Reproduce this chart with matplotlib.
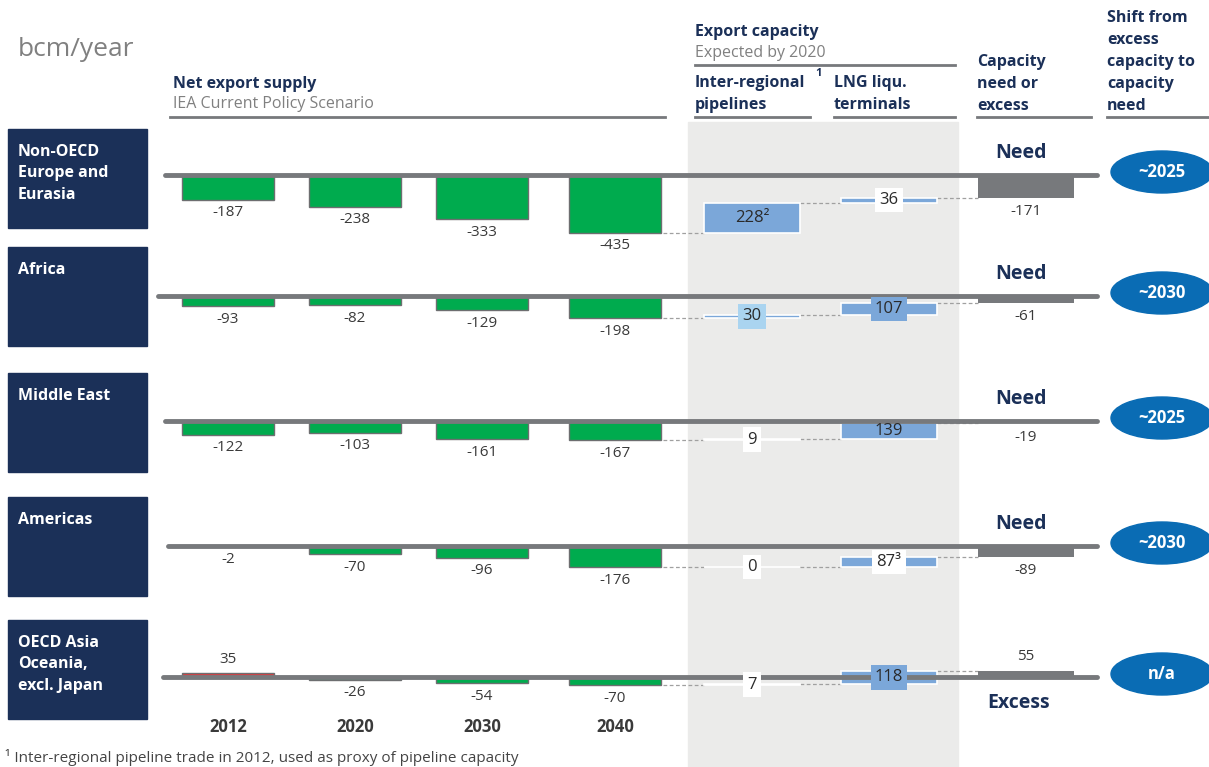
# Export capacity vs net export supply per region (bcm/year)
import matplotlib.pyplot as plt
from matplotlib.patches import Rectangle, Ellipse

plt.rcParams['font.family'] = ['Open Sans', 'DejaVu Sans']

# data
regions = ['Non-OECD\nEurope and\nEurasia', 'Africa', 'Middle East', 'Americas',
           'OECD Asia\nOceania,\nexcl. Japan']
years = ['2012', '2020', '2030', '2040']
net_supply = [
    [-187, -238, -333, -435],
    [-93, -82, -129, -198],
    [-122, -103, -161, -167],
    [-2, -70, -96, -176],
    [35, -26, -54, -70],
]
pipelines = [228, 30, 9, 0, 7]
lng = [36, 107, 139, 87, 118]
pipe_notes = ['²', '', '', '', '']
lng_notes = ['', '', '', '³', '']
need_text = ['Need', 'Need', 'Need', 'Need', 'Excess']
shift = ['~2025', '~2030', '~2025', '~2030', 'n/a']

# layout (pixels)
W, H = 1209, 767
base_y = [175, 296, 421, 546, 677]
box_top = [129, 247, 373, 497, 620]
line_x0 = [165, 158, 165, 168, 163]
px_per_bcm = [0.133, 0.112, 0.114, 0.12, 0.115]
year_x = [228, 355, 482, 615]
pipe_x, lng_x, need_x = 752, 889, 1026
pipe_box = ['none', '#aad4f0', 'white', 'white', 'white']
lng_box = ['white', '#7ba7d9', 'none', 'white', '#7ba7d9']

navy = '#1b3058'
green = '#00ab4e'
red = '#e03a3e'
blue = '#7ba7d9'
grey = '#77797c'
txt = '#3a3a3a'

fig = plt.figure(figsize=(W / 100, H / 100), dpi=100)
bg = fig.add_axes([0, 0, 1, 1])
bg.set_xlim(0, W)
bg.set_ylim(H, 0)
bg.axis('off')

# grey panel behind the export capacity columns
bg.add_patch(Rectangle((688, 122), 270, 645, color='#ebebea', zorder=0))

# headers
hd = dict(fontsize=11.5, fontweight='bold', color=navy, va='center', linespacing=1.5)
bg.text(18, 50, 'bcm/year', fontsize=19, color='#808080', va='center')
bg.text(173, 84, 'Net export supply', **hd)
bg.text(173, 104, 'IEA Current Policy Scenario', fontsize=11.5, color='#808080', va='center')
bg.plot([170, 665], [117, 117], color=grey, lw=2)
bg.text(695, 32, 'Export capacity', **hd)
bg.text(695, 53, 'Expected by 2020', fontsize=11.5, color='#808080', va='center')
bg.plot([695, 955], [65, 65], color=grey, lw=2)
bg.text(695, 94, 'Inter-regional\npipelines', **hd)
bg.text(815, 74, '1', fontsize=8, fontweight='bold', color=navy, va='center')
bg.plot([695, 810], [117, 117], color=grey, lw=2)
bg.text(834, 94, 'LNG liqu.\nterminals', **hd)
bg.plot([834, 955], [117, 117], color=grey, lw=2)
bg.text(977, 84, 'Capacity\nneed or\nexcess', **hd)
bg.plot([977, 1091], [117, 117], color=grey, lw=2)
bg.text(1107, 62, 'Shift from\nexcess\ncapacity to\ncapacity\nneed', **hd)
bg.plot([1107, 1209], [117, 117], color=grey, lw=2)

for i, name in enumerate(regions):
    # region box
    bg.add_patch(Rectangle((8, box_top[i]), 139, 99, color=navy, zorder=1))
    bg.text(18, box_top[i] + 15, name, fontsize=11.5, fontweight='bold', color='white',
            va='top', linespacing=1.45)
    # shift ellipse
    cy = base_y[i] - 3
    bg.add_patch(Ellipse((1162, cy), 102, 42, color='#0a6cb4', zorder=2))
    bg.text(1162, cy, shift[i], fontsize=12, fontweight='bold', color='white',
            ha='center', va='center', zorder=3)

    s = px_per_bcm[i]
    top_px, bot_px = 75, 85
    ax = fig.add_axes([0, 1 - (base_y[i] + bot_px) / H, 1, (top_px + bot_px) / H])
    ax.set_xlim(0, W)
    ax.set_ylim(-bot_px / s, top_px / s)
    ax.axis('off')
    ax.patch.set_alpha(0)

    vals = net_supply[i]
    cols = [red if v > 0 else green for v in vals]
    ax.bar(year_x, vals, width=92, color=cols, edgecolor='#6d6e70', lw=1, zorder=2)
    for x, v in zip(year_x, vals):
        off = 13 / s
        ax.text(x, v + off if v > 0 else v - off, str(v), fontsize=11, color=txt,
                ha='center', va='center')

    # waterfall: 2040 supply + pipelines + LNG = need / excess
    start = vals[-1]
    lvl1 = start + pipelines[i]
    lvl2 = lvl1 + lng[i]
    ax.bar(pipe_x, pipelines[i], bottom=start, width=96, color=blue, edgecolor='white',
           lw=1.2, zorder=2)
    ax.bar(lng_x, lng[i], bottom=lvl1, width=96, color=blue, edgecolor='white',
           lw=1.2, zorder=2)
    ax.bar(need_x, lvl2, width=96, color=grey, zorder=2)
    dash = dict(color='#a0a0a0', lw=0.9, ls=(0, (3, 2)), zorder=1)
    ax.plot([663, 704], [start, start], **dash)
    ax.plot([800, 841], [lvl1, lvl1], **dash)
    ax.plot([937, 978], [lvl2, lvl2], **dash)

    for x, v, lo, note, fc in [(pipe_x, pipelines[i], start, pipe_notes[i], pipe_box[i]),
                               (lng_x, lng[i], lvl1, lng_notes[i], lng_box[i])]:
        bbox = None if fc == 'none' else dict(boxstyle='square,pad=0.25', fc=fc, ec='none')
        ax.text(x, lo + v / 2, f'{v}{note}', fontsize=12, color='#2a2a2a', ha='center',
                va='center', bbox=bbox, zorder=4)

    off = 14 / s
    ax.text(need_x, lvl2 + off if lvl2 > 0 else lvl2 - off, str(lvl2), fontsize=11,
            color=txt, ha='center', va='center')
    if lvl2 < 0:
        ax.text(1021, 22 / s, need_text[i], fontsize=14, fontweight='bold', color=navy,
                ha='center', va='center')
    else:
        ax.text(1019, -26 / s, need_text[i], fontsize=14, fontweight='bold', color=navy,
                ha='center', va='center')

    # baseline
    ax.plot([line_x0[i], 1097], [0, 0], color=grey, lw=3.5, solid_capstyle='round', zorder=3)

for x, y in zip(year_x, years):
    bg.text(x, 727, y, fontsize=12, fontweight='bold', color=txt, ha='center', va='center')

bg.text(5, 758, '¹ Inter-regional pipeline trade in 2012, used as proxy of pipeline capacity',
        fontsize=11, color='#444444', va='center')

fig.savefig('out.png', dpi=100)
